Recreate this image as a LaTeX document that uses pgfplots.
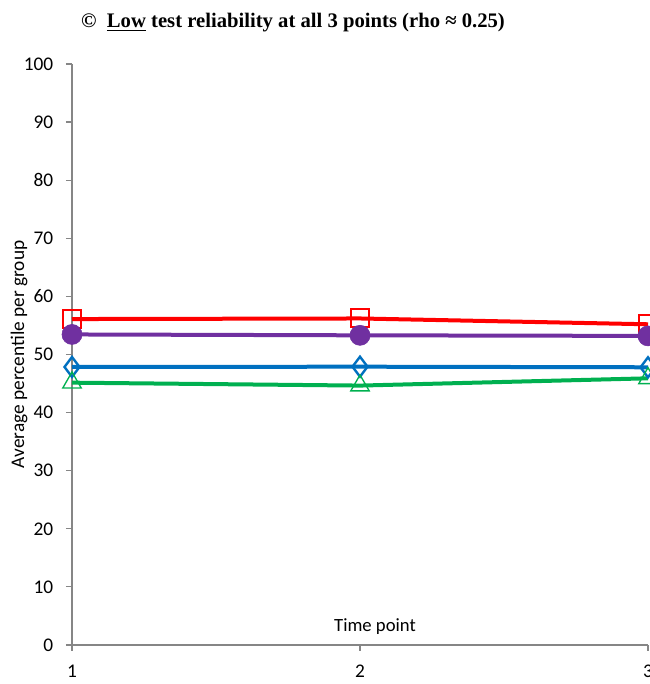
\documentclass[border=0pt]{standalone}
\usepackage{pgfplots}
\pgfplotsset{compat=1.18}
\usepackage{fontspec}
\setmainfont{Carlito}
\newfontfamily\titlefont{Liberation Serif}
\definecolor{cred}{RGB}{255,0,0}
\definecolor{cpurple}{RGB}{112,48,160}
\definecolor{cblue}{RGB}{0,112,192}
\definecolor{cgreen}{RGB}{0,176,80}
\definecolor{caxis}{RGB}{134,134,134}
\begin{document}
\begin{tikzpicture}[x=0.75pt,y=0.75pt]
\begin{axis}[
  at={(54pt,29.25pt)}, anchor=south west,
  scale only axis, width=432pt, height=435.75pt,
  xmin=1, xmax=3, ymin=0, ymax=100,
  axis x line=bottom, axis y line=left,
  axis line style={caxis, line width=0.9pt, -},
  xtick={1,2,3}, ytick={0,10,...,100},
  tick align=outside, major tick length=4.5pt,
  tick style={caxis, line width=0.9pt},
  /pgf/number format/assume math mode=true,
  ticklabel style={font=\fontsize{14.5}{16}\selectfont},
  yticklabel style={xshift=-6pt},
  xticklabel style={yshift=-7pt},
  xlabel={Time point},
  xlabel style={at={(axis description cs:0.526,0.031)}, anchor=center, font=\fontsize{14}{16}\selectfont},
  ylabel={Average percentile per group},
  ylabel style={at={(axis description cs:-0.092,0.5)}, anchor=center, font=\fontsize{14.5}{16}\selectfont},
  clip=false,
]
\addplot[cred, line width=3pt, mark=square, mark size=6.75pt, mark options={line width=1.5pt, fill=none}]
  coordinates {(1,56.1) (2,56.2) (3,55.2)};
\addplot[cpurple, line width=3pt, mark=*, mark size=7.5pt, mark options={fill=cpurple, draw=cpurple, line width=0.5pt}]
  coordinates {(1,53.45) (2,53.3) (3,53.2)};
\addplot[cblue, line width=3pt, mark=diamond, mark size=7.5pt, mark options={line width=1.8pt, fill=none}]
  coordinates {(1,47.85) (2,47.9) (3,47.8)};
\addplot[cgreen, line width=3pt, mark=triangle, mark size=8pt, mark options={line width=1pt, fill=none}]
  coordinates {(1,45.15) (2,44.65) (3,45.9)};
\end{axis}
\node[font=\titlefont\bfseries\fontsize{15.5}{18}\selectfont, anchor=base] at (293,656)
  {\textcopyright\ \ \underline{Low} test reliability at all 3 points (rho ≈ 0.25)};
\pgfresetboundingbox
\useasboundingbox (0,0) rectangle (649,684);
\end{tikzpicture}
\end{document}
